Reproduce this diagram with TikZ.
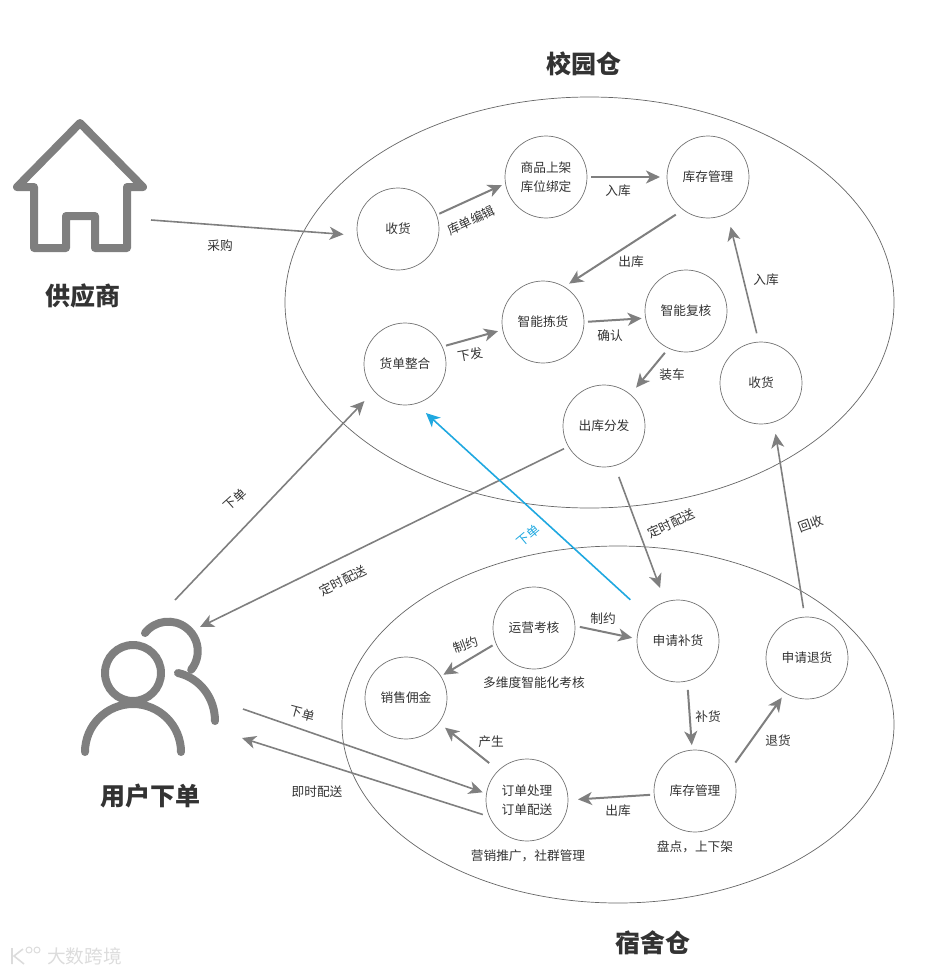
\documentclass[tikz,border=0pt]{standalone}
\usepackage{fontspec}
\usetikzlibrary{arrows.meta}
\usetikzlibrary{shapes.geometric}
\newfontfamily\cjk{Noto Sans CJK SC}
\definecolor{iconcol}{HTML}{7F7F7F}
\definecolor{textcol}{HTML}{333333}
\definecolor{bluecol}{HTML}{1FA8E0}
\definecolor{markcol}{HTML}{DCDCDC}
\tikzset{
  zone/.style={ellipse, draw=black!60, line width=0.7pt, inner sep=0pt},
  station/.style={circle, draw=black!55, line width=0.7pt, minimum size=82pt, inner sep=0pt, outer sep=0pt, text=textcol, font=\cjk\fontsize{12.7}{19}\selectfont, align=center},
  flow/.style={draw=iconcol, line width=2pt, -{Stealth[length=14pt, width=13pt, inset=4pt]}},
  longflow/.style={draw=iconcol, line width=1.6pt, -{Stealth[length=14pt, width=13pt, inset=4pt]}},
  edgelabel/.style={text=textcol, inner sep=0pt, yshift=-0.5pt, font=\cjk\fontsize{12.7}{14}\selectfont},
  title/.style={text=textcol, inner sep=0pt, yshift=-1pt, font=\cjk\bfseries\fontsize{25}{30}\selectfont},
  icon/.style={draw=iconcol, line width=8pt, line cap=round, line join=round}
}
\begin{document}
\begin{tikzpicture}[x=1pt, y=-1pt]
  \useasboundingbox (0,0) rectangle (928,974);

  \node[title] (tcampus) at (584,63) {校园仓};
  \node[title] (tsupplier) at (83,295) {供应商};
  \node[title] (tuser) at (150,795) {用户下单};
  \node[title] (tdorm) at (653,942) {宿舍仓};

  \node[zone, minimum width=609pt, minimum height=411pt] (campus) at (589.5,302.5) {};
  \node[zone, minimum width=552pt, minimum height=357pt] (dorm) at (618,724.5) {};

  \draw[icon] (17,187) -- (80,123) -- (143,187) -- (127,187) -- (127,248) -- (95,248) -- (95,216) -- (66,216) -- (66,248) -- (34,248) -- (34,187) -- cycle;
  \draw[icon] (133,673) circle[radius=28];
  \draw[icon] (85,752) arc[start angle=180, end angle=360, radius=48];
  \draw[icon] (145,633) arc[start angle=218, end angle=399, radius=29.5];
  \draw[icon] (178,673) .. controls (200,678) and (215,698) .. (215,721);

  \coordinate (supplierout) at (151,220);
  \coordinate (userup) at (175,600);
  \coordinate (userback) at (200,627);
  \coordinate (userout) at (243,709);
  \coordinate (userin) at (242,738);

  \node[station] (receive) at (398,229) {收货};
  \node[station] (shelve) at (546,177) {商品上架\\库位绑定};
  \node[station] (stock) at (708,177) {库存管理};
  \node[station] (pick) at (543,322) {智能拣货};
  \node[station] (review) at (686,311) {智能复核};
  \node[station] (merge) at (405,364) {货单整合};
  \node[station] (dispatch) at (604,426) {出库分发};
  \node[station] (recycle) at (761,383) {收货};

  \node[station] (assess) at (534,628) {运营考核};
  \node[station] (refill) at (678,641) {申请补货};
  \node[station] (refund) at (807,658) {申请退货};
  \node[station] (bonus) at (406,698) {销售佣金};
  \node[station] (order) at (527,800) {订单处理\\订单配送};
  \node[station] (dormstock) at (695,791) {库存管理};

  \draw[longflow, shorten >=14pt] (supplierout) -- (receive.189);
  \draw[flow, shorten <=3pt, shorten >=4pt] (receive.20) -- (shelve.189);
  \draw[flow, shorten <=4pt, shorten >=7pt] (shelve.0) -- (stock.180);
  \draw[flow, shorten <=9pt, shorten >=6pt] (stock.233) -- (pick.59);
  \draw[flow, shorten <=4pt, shorten >=4pt] (pick.0) -- (review.190);
  \draw[flow, shorten <=6pt, shorten >=9pt] (review.245) -- (dispatch.50);
  \draw[flow, shorten <=4pt, shorten >=5pt] (merge.25) -- (pick.191);
  \draw[longflow, shorten <=9pt, shorten >=14pt] (recycle.93) -- (stock.298);
  \draw[longflow, shorten >=14pt] (userup) -- (merge.221);
  \draw[longflow, shorten <=5pt] (dispatch.210) -- (userback);
  \draw[longflow, shorten <=12pt, shorten >=15pt] (dispatch.285) -- (refill.108);
  \draw[longflow, draw=bluecol, shorten <=22pt, shorten >=14pt] (refill.140) -- (merge.285);
  \draw[longflow, shorten <=9pt, shorten >=12pt] (refund.93) -- (recycle.288);
  \draw[flow, shorten <=5pt, shorten >=5pt] (assess.3) -- (refill.177);
  \draw[flow, shorten <=4pt, shorten >=3pt] (assess.202) -- (bonus.32);
  \draw[flow, shorten <=9pt, shorten >=5pt] (refill.283) -- (dormstock.94);
  \draw[flow, shorten <=9pt, shorten >=6pt] (dormstock.31) -- (refund.238);
  \draw[flow, shorten <=4pt, shorten >=10pt] (dormstock.185) -- (order.0);
  \draw[flow, shorten <=12pt, shorten >=8pt] (order.134) -- (bonus.323);
  \draw[longflow, shorten >=4pt] (userout) -- (order.171);
  \draw[longflow, shorten <=7pt] (order.204) -- (userin);

  \node[edgelabel] (lbuy) at (220,245) {采购};
  \node[edgelabel, rotate=25] (ledit) at (471,220) {库单编辑};
  \node[edgelabel] (lin) at (618,190) {入库};
  \node[edgelabel] (lout) at (631,261) {出库};
  \node[edgelabel] (lback) at (766,279) {入库};
  \node[edgelabel] (lconfirm) at (610,335) {确认};
  \node[edgelabel, rotate=10] (lsend) at (470,354) {下发};
  \node[edgelabel] (lload) at (672,374) {装车};
  \node[edgelabel, rotate=42] (lorder) at (235,499) {下单};
  \node[edgelabel, rotate=27] (ltimed) at (343,580) {定时配送};
  \node[edgelabel, rotate=25] (ltimedb) at (671,523) {定时配送};
  \node[edgelabel, rotate=40, text=bluecol] (lblue) at (528,535) {下单};
  \node[edgelabel, rotate=20] (lreturn) at (811,523) {回收};
  \node[edgelabel] (llimit) at (603,618) {制约};
  \node[edgelabel, rotate=20] (llimitb) at (466,644) {制约};
  \node[edgelabel] (lassess) at (534,682) {多维度智能化考核};
  \node[edgelabel] (lrefill) at (708,716) {补货};
  \node[edgelabel] (lrefund) at (778,740) {退货};
  \node[edgelabel] (lmake) at (491,741) {产生};
  \node[edgelabel, rotate=-15] (lorderb) at (302,713) {下单};
  \node[edgelabel] (lnow) at (317,791) {即时配送};
  \node[edgelabel] (loutb) at (618,810) {出库};
  \node[edgelabel] (lcount) at (695,846) {盘点，上下架};
  \node[edgelabel] (lmarket) at (528,855) {营销推广，社群管理};

  \node[text=markcol, inner sep=0pt, font=\cjk\fontsize{18.7}{20}\selectfont] (mark) at (84.5,956) {大数跨境};
  \draw[draw=markcol, line width=1.6pt] (12,948) -- (12,964) (23,949) -- (14,956) -- (24,964);
  \draw[draw=markcol, line width=1pt] (29,950) circle[radius=3] (37,950) circle[radius=3];
\end{tikzpicture}
\end{document}
